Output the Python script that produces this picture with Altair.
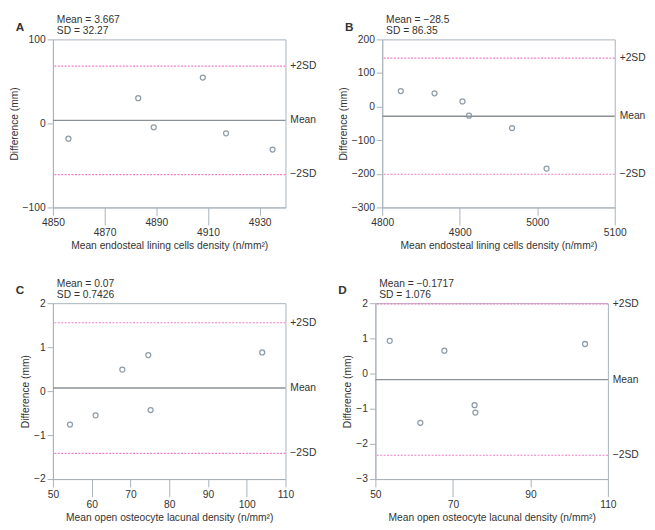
import altair as alt
import pandas as pd

# ---- data ----
A_x = [4856, 4883, 4889, 4908, 4917, 4935]
A_y = [-18.2, 30.0, -4.6, 54.6, -11.8, -31.1]
A_mean, A_sd = 3.667, 32.27

B_x = [4824, 4867.5, 4903.5, 4912, 4967.5, 5012]
B_y = [46.3, 39.6, 15.4, -27.0, -63.7, -184.4]
B_mean, B_sd = -28.5, 86.35

C_x = [54.4, 61.0, 67.9, 74.6, 75.2, 104.0]
C_y = [-0.76, -0.55, 0.49, 0.82, -0.43, 0.88]
C_mean, C_sd = 0.07, 0.7426

D_x = [53.7, 61.6, 67.8, 75.6, 75.8, 104.1]
D_y = [0.93, -1.40, 0.65, -0.90, -1.11, 0.84]
D_mean, D_sd = -0.1717, 1.076

A_xticks = [4850, 4870, 4890, 4910, 4930]
B_xticks = [4800, 4900, 5000, 5100]
C_xticks = [50, 60, 70, 80, 90, 100, 110]
D_xticks = [50, 70, 90, 110]

A_yticks = [-100, 0, 100]
B_yticks = [-300, -200, -100, 0, 100, 200]
C_yticks = [-2, -1, 0, 1, 2]
D_yticks = [-3, -2, -1, 0, 1, 2]

xtitle_top = "Mean endosteal lining cells density (n/mm²)"
xtitle_bot = "Mean open osteocyte lacunal density (n/mm²)"
line_labels = ["+2SD", "Mean", "\u22122SD"]
mean_txt = ["Mean = 3.667", "Mean = \u221228.5", "Mean = 0.07", "Mean = \u22120.1717"]
sd_txt = ["SD = 32.27", "SD = 86.35", "SD = 0.7426", "SD = 1.076"]

W = 238
FRAME = "#a7b2bb"
PT = "#8e9ca8"
MEANC = "#8a9297"
PINK = "#f07cc6"
TXT = "#333333"
FONT = "Liberation Sans"


def panel(letter, xs, ys, mean, sd, xdom, xticks, ydom, yticks, xtitle, long_ticks,
          mtxt, stxt, H):
    pts = pd.DataFrame({"x": xs, "y": ys})
    lines = pd.DataFrame({"y": [mean + 2 * sd, mean, mean - 2 * sd],
                          "lab": line_labels,
                          "kind": ["sd", "mean", "sd"]})
    test = " || ".join(f"datum.value == {v}" for v in long_ticks)
    xs_ = alt.Scale(domain=xdom, nice=False, zero=False)
    ys_ = alt.Scale(domain=ydom, nice=False, zero=False)
    xaxis = alt.Axis(values=xticks, title=xtitle, grid=False, format="d",
                     tickSize={"condition": {"test": test, "value": 18}, "value": 8},
                     labelPadding=3, titlePadding=3, labelFlush=False,
                     labelOverlap=False)
    yaxis = alt.Axis(values=yticks, title="Difference (mm)", grid=False,
                     tickSize=6, labelPadding=2, titlePadding=3, tickCount=len(yticks),
                     labelOverlap=False, labelFlush=False, labelBound=False)

    base_pts = alt.Chart(pts).mark_point(shape="circle", filled=False, size=26,
                                         strokeWidth=1.3, color=PT, opacity=1).encode(
        x=alt.X("x:Q", scale=xs_, axis=xaxis),
        y=alt.Y("y:Q", scale=ys_, axis=yaxis),
    )
    sd_rules = alt.Chart(lines[lines.kind == "sd"]).mark_rule(
        color=PINK, strokeWidth=1.2, strokeDash=[2, 1.5]).encode(
        y=alt.Y("y:Q", scale=ys_, axis=yaxis))
    mean_rule = alt.Chart(lines[lines.kind == "mean"]).mark_rule(
        color=MEANC, strokeWidth=1.4).encode(y=alt.Y("y:Q", scale=ys_, axis=yaxis))
    labs = alt.Chart(lines).mark_text(align="left", baseline="middle",
                                      fontSize=10.5, color=TXT, font=FONT).encode(
        y=alt.Y("y:Q", scale=ys_, axis=yaxis), x=alt.value(W + 5), text="lab:N")
    ann = pd.DataFrame({"t": [mtxt + "\n" + stxt]})
    ann_m = alt.Chart(ann).mark_text(align="left", baseline="top", fontSize=10.5,
                                     lineBreak="\n", lineHeight=12,
                                     color=TXT, font=FONT).encode(
        x=alt.value(4), y=alt.value(-25), text="t:N")
    let = alt.Chart(pd.DataFrame({"t": [letter]})).mark_text(
        align="left", baseline="middle", fontSize=12, fontWeight="bold",
        color=TXT, font=FONT).encode(x=alt.value(-38), y=alt.value(-13), text="t:N")
    return alt.layer(base_pts, sd_rules, mean_rule, labs, ann_m, let).properties(
        width=W, height=H)


pA = panel("A", A_x, A_y, A_mean, A_sd, [4850, 4940], A_xticks, [-100, 100], A_yticks,
           xtitle_top, [4870, 4910], mean_txt[0], sd_txt[0], 172)
pB = panel("B", B_x, B_y, B_mean, B_sd, [4800, 5100], B_xticks, [-300, 200], B_yticks,
           xtitle_top, [4900, 5100], mean_txt[1], sd_txt[1], 172)
pC = panel("C", C_x, C_y, C_mean, C_sd, [50, 110], C_xticks, [-2, 2], C_yticks,
           xtitle_bot, [60, 80, 100], mean_txt[2], sd_txt[2], 180)
pD = panel("D", D_x, D_y, D_mean, D_sd, [50, 110], D_xticks, [-3, 2], D_yticks,
           xtitle_bot, [70, 110], mean_txt[3], sd_txt[3], 180)

chart = alt.vconcat(
    alt.hconcat(pA, pB, spacing=20),
    alt.hconcat(pC, pD, spacing=20),
    spacing=26,
).properties(
    padding={"left": 0, "top": 0, "right": 0, "bottom": 0}
).configure_view(
    stroke=FRAME, strokeWidth=1
).configure_axis(
    domainColor=FRAME, tickColor=FRAME, labelColor=TXT, titleColor=TXT,
    labelFont=FONT, titleFont=FONT, labelFontSize=10.5, titleFontSize=10.5,
    titleFontWeight="normal", domainWidth=1, tickWidth=1
)

chart.save("out.html", embed_options={"renderer": "svg", "actions": False})
